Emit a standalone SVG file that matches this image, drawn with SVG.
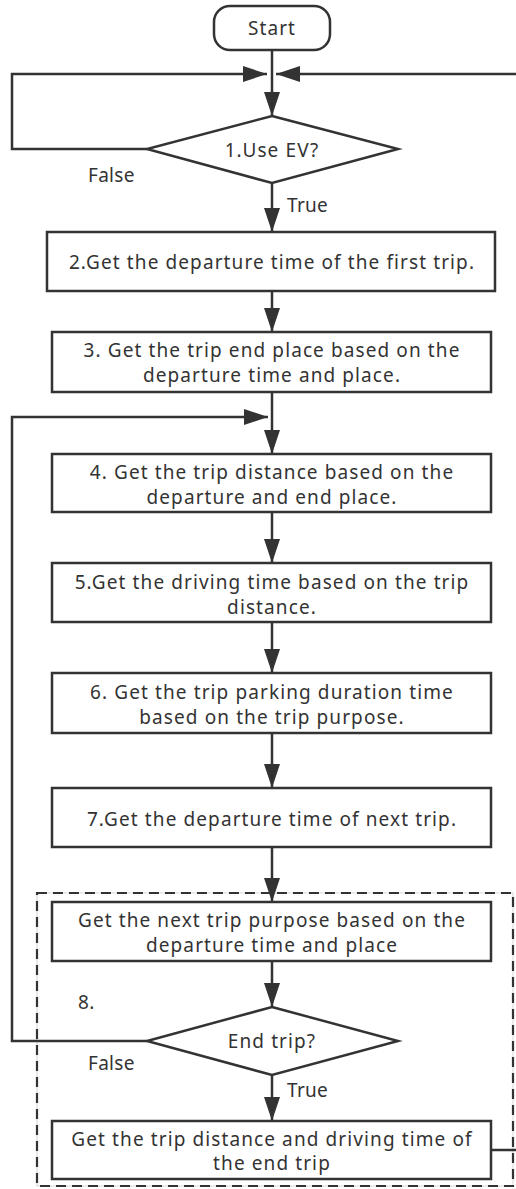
<svg xmlns="http://www.w3.org/2000/svg" width="516" height="1189" viewBox="0 0 516 1189">
  <defs>
    <marker id="arrow" viewBox="0 0 24 16" refX="24" refY="8" markerWidth="24" markerHeight="16" markerUnits="userSpaceOnUse" orient="auto">
      <path d="M0,0 L24,8 L0,16 Z" fill="#333"/>
    </marker>
  </defs>
  <style>
    .box { fill: #fff; stroke: #333; stroke-width: 2.5; }
    .line { fill: none; stroke: #333; stroke-width: 2.5; }
    .dash { fill: none; stroke: #333; stroke-width: 2.2; stroke-dasharray: 10 6; }
    .guide { fill: none; stroke: #ccc; stroke-width: 0.8; }
    text { font-family: "Noto Sans", "Open Sans", sans-serif; font-size: 19px; fill: #333; text-anchor: middle; dominant-baseline: central; letter-spacing: 1.1px; }
    .lbl { text-anchor: start; letter-spacing: 0.3px; }
  </style>
  <rect width="516" height="1189" fill="#fff"/>

  <!-- step 8 frame -->
  <g id="group8">
    <rect class="guide" x="37" y="893" width="476" height="293"/>
    <rect class="dash" x="37" y="893" width="476" height="293"/>
    <text class="lbl" x="78" y="1002">8.</text>
  </g>

  <!-- connectors -->
  <g id="connectors">
    <line class="line" x1="272" y1="50" x2="272" y2="116" marker-end="url(#arrow)"/>
    <polyline class="line" points="147,149 12,149 12,74 267,74" marker-end="url(#arrow)"/>
    <polyline class="line" points="491,1150 519,1150 519,74 276,74" marker-end="url(#arrow)"/>
    <line class="line" x1="272" y1="183" x2="272" y2="232" marker-end="url(#arrow)"/>
    <line class="line" x1="272" y1="291" x2="272" y2="332" marker-end="url(#arrow)"/>
    <line class="line" x1="272" y1="392" x2="272" y2="454" marker-end="url(#arrow)"/>
    <polyline class="line" points="147,1041 12,1041 12,417 268,417" marker-end="url(#arrow)"/>
    <line class="line" x1="272" y1="512" x2="272" y2="563" marker-end="url(#arrow)"/>
    <line class="line" x1="272" y1="622" x2="272" y2="673" marker-end="url(#arrow)"/>
    <line class="line" x1="272" y1="733" x2="272" y2="788" marker-end="url(#arrow)"/>
    <line class="line" x1="272" y1="847" x2="272" y2="902" marker-end="url(#arrow)"/>
    <line class="line" x1="272" y1="961" x2="272" y2="1007" marker-end="url(#arrow)"/>
    <line class="line" x1="272" y1="1075" x2="272" y2="1121" marker-end="url(#arrow)"/>
    <text class="lbl" x="88" y="175">False</text>
    <text class="lbl" x="287" y="205">True</text>
    <text class="lbl" x="88" y="1063">False</text>
    <text class="lbl" x="287" y="1090">True</text>
  </g>

  <g id="start">
    <rect class="box" x="214" y="6" width="116" height="44" rx="16"/>
    <text x="272" y="28">Start</text>
  </g>

  <g id="step1">
    <polygon class="box" points="272,116 398,149 272,183 147,149"/>
    <text x="272" y="150">1.Use EV?</text>
  </g>

  <g id="step2">
    <rect class="box" x="47" y="232" width="448" height="59"/>
    <text x="272" y="262">2.Get the departure time of the first trip.</text>
  </g>

  <g id="step3">
    <rect class="box" x="52" y="332" width="439" height="60"/>
    <text x="272" y="350">3. Get the trip end place based on the</text>
    <text x="272" y="375">departure time and place.</text>
  </g>

  <g id="step4">
    <rect class="box" x="52" y="454" width="439" height="58"/>
    <text x="272" y="472">4. Get the trip distance based on the</text>
    <text x="272" y="497">departure and end place.</text>
  </g>

  <g id="step5">
    <rect class="box" x="52" y="563" width="439" height="59"/>
    <text x="272" y="582">5.Get the driving time based on the trip</text>
    <text x="272" y="607">distance.</text>
  </g>

  <g id="step6">
    <rect class="box" x="52" y="673" width="439" height="60"/>
    <text x="272" y="692">6. Get the trip parking duration time</text>
    <text x="272" y="717">based on the trip purpose.</text>
  </g>

  <g id="step7">
    <rect class="box" x="52" y="788" width="439" height="59"/>
    <text x="272" y="819">7.Get the departure time of next trip.</text>
  </g>

  <g id="step8a">
    <rect class="box" x="52" y="902" width="439" height="59"/>
    <text x="272" y="920">Get the next trip purpose based on the</text>
    <text x="272" y="945">departure time and place</text>
  </g>

  <g id="step8b">
    <polygon class="box" points="272,1007 398,1041 272,1075 147,1041"/>
    <text x="272" y="1041">End trip?</text>
  </g>

  <g id="step9">
    <rect class="box" x="52" y="1121" width="439" height="58"/>
    <text x="272" y="1139">Get the trip distance and driving time of</text>
    <text x="272" y="1163">the end trip</text>
  </g>
</svg>
